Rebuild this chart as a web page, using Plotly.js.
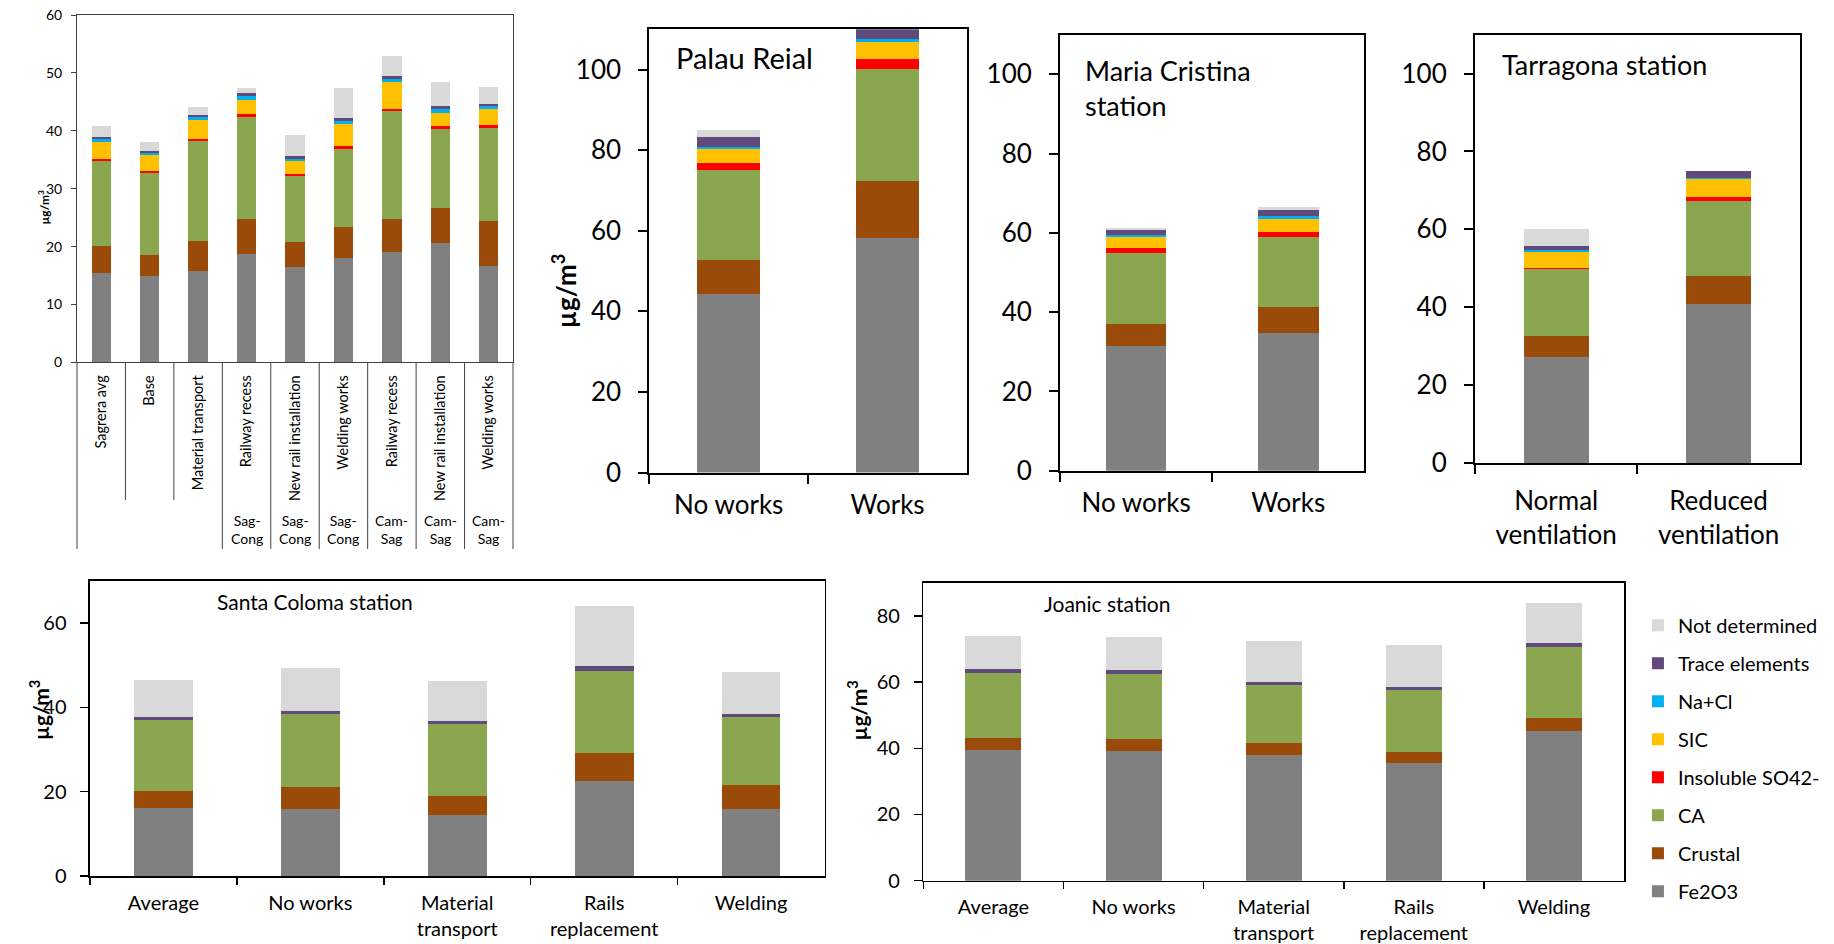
<!DOCTYPE html>
<html><head><meta charset="utf-8">
<script src="https://cdn.plot.ly/plotly-3.0.1.min.js"></script>
<style>html,body{margin:0;padding:0;background:#fff}#chart{width:1834px;height:944px}</style>
</head><body><div id="chart"></div><script>
// ---- components & colours ----
const components = ['Fe2O3','Crustal','CA','Insoluble SO42-','SIC','Na+Cl','Trace elements','Not determined'];
const colors = ['#808080','#9A4A09','#8AA64F','#FF0000','#FFC000','#00B0F0','#604A7B','#D9D9D9'];

// ---- Panel 1: Sagrera ----
const sagCategories = ['Sagrera avg','Base','Material transport','Railway recess','New rail installation','Welding works','Railway recess','New rail installation','Welding works'];
const sagSections = ['','','','Sag-<br>Cong','Sag-<br>Cong','Sag-<br>Cong','Cam-<br>Sag','Cam-<br>Sag','Cam-<br>Sag'];
const sagFe2O3  = [15.5,15.0,15.8,18.7,16.45,18.0,19.0,20.55,16.6];
const sagCrustal= [4.6,3.5,5.2,6.0,4.35,5.4,5.7,6.2,7.85];
const sagCA     = [14.65,14.2,17.2,17.7,11.4,13.5,18.75,13.65,16.05];
const sagSO4    = [0.35,0.3,0.35,0.5,0.4,0.4,0.4,0.45,0.5];
const sagSIC    = [2.9,2.8,3.35,2.4,2.15,3.95,4.55,2.15,2.7];
const sagNaCl   = [0.6,0.4,0.45,0.7,0.4,0.45,0.5,0.7,0.6];
const sagTrace  = [0.4,0.3,0.35,0.5,0.55,0.5,0.5,0.55,0.4];
const sagND     = [1.9,1.5,1.5,0.85,3.55,5.15,3.5,4.2,2.9];

// ---- Panel 2: Palau Reial ----
const palauCategories = ['No works','Works'];
const palauFe2O3 = [44.3,58.2];
const palauCrustal = [8.5,14.2];
const palauCA = [22.3,27.8];
const palauSO4 = [1.6,2.5];
const palauSIC = [3.7,4.2];
const palauNaCl = [0.5,0.6];
const palauTrace = [2.3,2.6];
const palauND = [1.8,0];

// ---- Panel 3: Maria Cristina ----
const mariaCategories = ['No works','Works'];
const mariaFe2O3 = [31.5,34.8];
const mariaCrustal = [5.5,6.6];
const mariaCA = [18.0,17.6];
const mariaSO4 = [1.1,1.3];
const mariaSIC = [2.9,3.2];
const mariaNaCl = [0.5,0.7];
const mariaTrace = [1.3,1.5];
const mariaND = [0.3,0.8];

// ---- Panel 4: Tarragona ----
const tarraCategories = ['Normal<br>ventilation','Reduced<br>ventilation'];
const tarraFe2O3 = [27.2,40.8];
const tarraCrustal = [5.4,7.2];
const tarraCA = [17.2,19.3];
const tarraSO4 = [0.3,0.9];
const tarraSIC = [4.1,4.6];
const tarraNaCl = [0.4,0.4];
const tarraTrace = [1.1,1.7];
const tarraND = [4.3,0];

// ---- Panel 5: Santa Coloma ----
const metroCategories = ['Average','No works','Material<br>transport','Rails<br>replacement','Welding'];
const scFe2O3 = [16.1,16.0,14.4,22.5,16.0];
const scCrustal = [4.1,5.2,4.6,6.7,5.6];
const scCA = [16.7,17.2,17.1,19.5,16.1];
const scSO4 = [0,0,0,0,0];
const scSIC = [0,0,0,0,0];
const scNaCl = [0,0,0,0,0];
const scTrace = [0.8,0.6,0.6,1.0,0.7];
const scND = [8.8,10.3,9.5,14.4,9.9];

// ---- Panel 6: Joanic ----
const joFe2O3 = [39.45,39.25,37.9,35.5,45.2];
const joCrustal = [3.65,3.65,3.7,3.4,4.0];
const joCA = [19.6,19.6,17.5,18.6,21.4];
const joSO4 = [0,0,0,0,0];
const joSIC = [0,0,0,0,0];
const joNaCl = [0,0,0,0,0];
const joTrace = [1.1,1.1,1.0,1.0,1.2];
const joND = [10.1,9.9,12.3,12.7,12.0];

const traces = [];
function addPanel(xs, series, xa, ya, showlegend) {
  series.forEach((vals, i) => {
    traces.push({type:'bar', x: xs, y: vals, name: components[i],
      marker:{color: colors[i], line:{width:0}}, xaxis: xa, yaxis: ya,
      showlegend: showlegend, legendgroup: components[i], legendrank: components.length - i,
      hoverinfo:'skip'});
  });
}
const sagIdx = sagCategories.map((_, i) => i);
addPanel(sagIdx, [sagFe2O3,sagCrustal,sagCA,sagSO4,sagSIC,sagNaCl,sagTrace,sagND], 'x', 'y', true);
addPanel(palauCategories, [palauFe2O3,palauCrustal,palauCA,palauSO4,palauSIC,palauNaCl,palauTrace,palauND], 'x2', 'y2', false);
addPanel(mariaCategories, [mariaFe2O3,mariaCrustal,mariaCA,mariaSO4,mariaSIC,mariaNaCl,mariaTrace,mariaND], 'x3', 'y3', false);
addPanel(tarraCategories, [tarraFe2O3,tarraCrustal,tarraCA,tarraSO4,tarraSIC,tarraNaCl,tarraTrace,tarraND], 'x4', 'y4', false);
addPanel(metroCategories, [scFe2O3,scCrustal,scCA,scSO4,scSIC,scNaCl,scTrace,scND], 'x5', 'y5', false);
addPanel(metroCategories, [joFe2O3,joCrustal,joCA,joSO4,joSIC,joNaCl,joTrace,joND], 'x6', 'y6', false);

const FONT = 'Lato, "Open Sans", "DejaVu Sans", sans-serif';
const base = {showgrid:false, zeroline:false, showline:true, mirror:true, fixedrange:true};
function catX(domain, anchor, size, lw, standoff) {
  return Object.assign({}, base, {domain, anchor, type:'category', tickson:'boundaries', ticks:'outside',
    ticklen: lw > 1.6 ? 9 : 7, tickwidth: lw, tickcolor:'#000', linecolor:'#000', linewidth: lw,
    tickfont:{size, color:'#000'}, ticklabelstandoff: standoff});
}
function valY(domain, anchor, range, dtick, size, lw, standoff) {
  return Object.assign({}, base, {domain, anchor, range, dtick, ticks:'outside',
    ticklen: lw > 1.6 ? 9 : 8, tickwidth: lw, tickcolor:'#000', linecolor:'#000', linewidth: lw,
    tickfont:{size, color:'#000'}, ticklabelstandoff: standoff});
}

const layout = {
  width:1834, height:944, margin:{l:0,r:0,t:0,b:0},
  paper_bgcolor:'#fff', plot_bgcolor:'#fff',
  barmode:'stack', bargap:0.6,
  font:{family: FONT, color:'#000'},
  hovermode:false,
  showlegend:true,
  legend:{x:0.8931, xanchor:'left', y:0.3583, yanchor:'top', traceorder:'grouped',
    tracegroupgap:9, font:{size:20, color:'#000'}, bgcolor:'rgba(0,0,0,0)'},
  xaxis: Object.assign({}, base, {domain:[0.041985,0.279716], anchor:'y', range:[-0.5,8.5],
    tickmode:'array', tickvals: sagIdx, ticktext: sagCategories, tickangle:-90, ticks:'',
    linecolor:'#404040', linewidth:1, tickfont:{size:14.5, color:'#000'}, ticklabelstandoff:6}),
  yaxis: Object.assign({}, base, {domain:[0.616,0.98411], anchor:'x', range:[0,60], dtick:10,
    ticks:'outside', ticklen:5, tickcolor:'#404040', linecolor:'#404040', linewidth:1,
    tickfont:{size:14, color:'#000'}, ticklabelstandoff:6}),
  xaxis2: catX([0.35404,0.52726], 'y2', 26, 2, 8),
  yaxis2: valY([0.49947,0.96896], 'x2', [0,110], 20, 26, 2, 12),
  xaxis3: catX([0.57797,0.74389], 'y3', 26, 2, 8),
  yaxis3: valY([0.50138,0.96335], 'x3', [0,110], 20, 26, 2, 12),
  xaxis4: catX([0.80425,0.98130], 'y4', 26, 2, 14),
  yaxis4: valY([0.50964,0.96335], 'x4', [0,110], 20, 26, 2, 12),
  xaxis5: catX([0.04907,0.44957], 'y5', 20, 1.5, 8),
  yaxis5: valY([0.07203,0.38485], 'x5', [0,70], 20, 20, 1.5, 10),
  xaxis6: catX([0.50349,0.88550], 'y6', 20, 1.5, 8),
  yaxis6: valY([0.06706,0.38273], 'x6', [0,90], 20, 20, 1.5, 10),
  annotations: [],
  shapes: []
};

// Panel titles
const ann = layout.annotations;
ann.push({text:'Palau Reial', xref:'paper', yref:'paper', x:0.3675, y:0.9396, xanchor:'left', yanchor:'middle', showarrow:false, font:{size:29}});
ann.push({text:'Maria Cristina<br>station', xref:'paper', yref:'paper', x:0.59035, y:0.9068, xanchor:'left', yanchor:'middle', align:'left', showarrow:false, font:{size:27}});
ann.push({text:'Tarragona station', xref:'paper', yref:'paper', x:0.81788, y:0.9322, xanchor:'left', yanchor:'middle', showarrow:false, font:{size:27}});
ann.push({text:'Santa Coloma station', xref:'paper', yref:'paper', x:0.11723, y:0.3626, xanchor:'left', yanchor:'middle', showarrow:false, font:{size:21}});
ann.push({text:'Joanic station', xref:'paper', yref:'paper', x:0.56816, y:0.3612, xanchor:'left', yanchor:'middle', showarrow:false, font:{size:21}});
// Y titles
const unit = 'µg/m<sup>3</sup>';
ann.push({text:'<b>'+unit+'</b>', xref:'paper', yref:'paper', x:0.01854, y:0.8008, textangle:-90, showarrow:false, font:{size:12}});
ann.push({text:'<b>'+unit+'</b>', xref:'paper', yref:'paper', x:0.2972, y:0.734, textangle:-90, showarrow:false, font:{size:26}});
ann.push({text:'<b>'+unit+'</b>', xref:'paper', yref:'paper', x:0.0125, y:0.214, textangle:-90, showarrow:false, font:{size:21}});
ann.push({text:'<b>'+unit+'</b>', xref:'paper', yref:'paper', x:0.4675, y:0.214, textangle:-90, showarrow:false, font:{size:21}});
// Section labels under panel 1
sagSections.forEach((s, i) => {
  if (s) ann.push({text:s, xref:'x', yref:'y domain', x:i, y:-0.482, yanchor:'middle', showarrow:false, font:{size:14}});
});
// Divider lines of panel 1 category table
const shapes = layout.shapes;
const n = sagCategories.length;
for (let k = 0; k <= n; k++) {
  const short = (k === 1 || k === 2);
  shapes.push({type:'line', xref:'x domain', yref:'y domain', x0:k/n, x1:k/n, y0:0, y1: short ? -0.3957 : -0.5367,
    line:{color:'#404040', width:1}});
}

Plotly.newPlot('chart', traces, layout, {staticPlot:true, displayModeBar:false});
</script></body></html>
